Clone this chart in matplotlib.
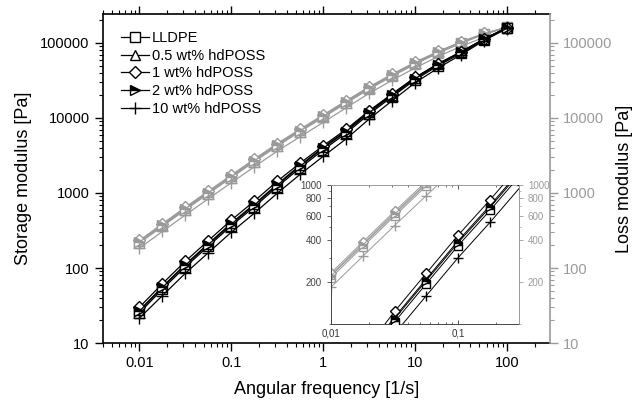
import matplotlib
matplotlib.use("Agg")
import matplotlib.pyplot as plt
from matplotlib.ticker import FixedLocator, FixedFormatter, NullFormatter, LogLocator

plt.rcParams['font.family'] = ['Liberation Sans', 'DejaVu Sans']

freq = [0.01, 0.0178, 0.0316, 0.0562, 0.1, 0.178, 0.316, 0.562, 1, 1.78,
        3.16, 5.62, 10, 17.8, 31.6, 56.2, 100]

labels = ["LLDPE", "0.5 wt% hdPOSS", "1 wt% hdPOSS", "2 wt% hdPOSS", "10 wt% hdPOSS"]

# Storage modulus G' [Pa]
gp_lldpe = [25.2, 52.3, 103.5, 195, 366, 656, 1207, 2166, 3750, 6290, 11270, 19200, 32300, 49800, 72800, 109000, 157000]
gp_05 = [27.3, 56.5, 112, 211, 397, 711, 1310, 2350, 4070, 6800, 12100, 20500, 34300, 52500, 76000, 113000, 160000]
gp_1 = [30, 62, 123, 232, 435, 780, 1435, 2510, 4270, 7060, 12500, 21000, 34800, 53000, 76500, 113000, 160000]
gp_2 = [26.5, 55, 109, 205, 385, 690, 1270, 2280, 3950, 6600, 11800, 20000, 33500, 51500, 75000, 112000, 160000]
gp_10 = [21.5, 42.9, 85, 160, 300, 538, 991, 1778, 3081, 5280, 9676, 17000, 29480, 46350, 69750, 107500, 156800]

# Loss modulus G'' [Pa]
gpp_lldpe = [215, 359, 597, 980, 1600, 2620, 4220, 6600, 10190, 15810, 24250, 36000, 52200, 73300, 99000, 130000, 161000]
gpp_05 = [226, 377, 627, 1030, 1683, 2754, 4437, 6936, 10710, 16620, 25500, 37700, 54400, 76200, 102500, 133000, 162000]
gpp_1 = [233, 389, 646, 1060, 1730, 2835, 4560, 7120, 10980, 17000, 26000, 38400, 55300, 77200, 103500, 134000, 162000]
gpp_2 = [222, 370, 615, 1010, 1650, 2700, 4350, 6800, 10500, 16300, 25000, 37000, 53500, 75000, 101000, 132000, 162000]
gpp_10 = [184, 307, 510, 838, 1370, 2240, 3610, 5640, 8720, 13700, 21300, 31800, 46500, 66000, 90000, 119000, 150000]

gp_all = [gp_lldpe, gp_05, gp_1, gp_2, gp_10]
gpp_all = [gpp_lldpe, gpp_05, gpp_1, gpp_2, gpp_10]

markers = ['s', '^', 'D', '>', '+']
msizes = [7, 7.5, 6, 7.5, 9]

GRAY = '#9a9a9a'

fig = plt.figure(figsize=(6.39, 4.01), dpi=100)
ax = fig.add_axes([0.161, 0.1446, 0.700, 0.8204])


def style_for(i, color):
    kw = dict(marker=markers[i], markersize=msizes[i], markeredgecolor=color,
              markeredgewidth=1.0, color=color)
    if markers[i] == '>':
        kw.update(fillstyle='top', markerfacecolor=color, markerfacecoloralt='white')
    elif markers[i] != '+':
        kw.update(markerfacecolor='white')
    return kw


def draw(axx, scale=1.0, lw=0.9):
    order = [4, 0, 1, 3, 2]
    for i in order:
        kw = style_for(i, GRAY)
        kw['markersize'] = msizes[i] * scale
        axx.plot(freq, gpp_all[i], lw=lw, zorder=2 + i * 0.1, **kw)
    handles = {}
    for i in order:
        kw = style_for(i, 'black')
        kw['markersize'] = msizes[i] * scale
        h, = axx.plot(freq, gp_all[i], lw=lw, zorder=3 + i * 0.1, **kw)
        handles[i] = h
    return handles


handles = draw(ax)

ax.set_xscale('log')
ax.set_yscale('log')
ax.set_xlim(0.004, 295)
ax.set_ylim(10, 243000)
ax.set_xticks([0.01, 0.1, 1, 10, 100])
ax.set_xticklabels(['0.01', '0.1', '1', '10', '100'])
ax.set_yticks([10, 100, 1000, 10000, 100000])
ax.set_yticklabels(['10', '100', '1000', '10000', '100000'])
ax.xaxis.set_minor_locator(LogLocator(base=10, subs=range(2, 10), numticks=20))
ax.yaxis.set_minor_locator(LogLocator(base=10, subs=range(2, 10), numticks=20))
ax.xaxis.set_minor_formatter(NullFormatter())
ax.yaxis.set_minor_formatter(NullFormatter())
ax.tick_params(which='both', direction='out', top=True, labelsize=10.5)
ax.tick_params(which='major', length=6, width=1)
ax.tick_params(which='minor', length=3, width=0.8)
ax.spines['right'].set_visible(False)
for s in ['left', 'bottom', 'top']:
    ax.spines[s].set_linewidth(1.2)

ax.set_xlabel('Angular frequency [1/s]', fontsize=13, labelpad=8)
ax.set_ylabel('Storage modulus [Pa]', fontsize=13, labelpad=6)

ax2 = ax.twinx()
ax2.set_yscale('log')
ax2.set_ylim(10, 243000)
ax2.set_yticks([10, 100, 1000, 10000, 100000])
ax2.set_yticklabels(['10', '100', '1000', '10000', '100000'])
ax2.yaxis.set_minor_locator(LogLocator(base=10, subs=range(2, 10), numticks=20))
ax2.yaxis.set_minor_formatter(NullFormatter())
ax2.tick_params(which='both', direction='out', colors=GRAY, labelsize=10.5)
ax2.tick_params(which='major', length=6, width=1)
ax2.tick_params(which='minor', length=3, width=0.8)
for s in ['left', 'bottom', 'top']:
    ax2.spines[s].set_visible(False)
ax2.spines['right'].set_color(GRAY)
ax2.spines['right'].set_linewidth(1.2)
ax2.set_ylabel('Loss modulus [Pa]', fontsize=13, labelpad=2, color='black')

leg = ax.legend([handles[i] for i in range(5)], labels, loc='upper left',
                bbox_to_anchor=(0.04, 0.948), borderaxespad=0, borderpad=0,
                frameon=False, fontsize=10.5, handlelength=1.95,
                handletextpad=0.2, labelspacing=0.25)

# Inset
axi = fig.add_axes([0.518, 0.192, 0.294, 0.347])
draw(axi, scale=0.85, lw=0.7)
axi.set_xscale('log')
axi.set_yscale('log')
axi.set_xlim(0.01, 0.30)
axi.set_ylim(100, 1000)
axi.xaxis.set_major_locator(FixedLocator([0.01, 0.1]))
axi.xaxis.set_major_formatter(FixedFormatter(['0,01', '0,1']))
axi.xaxis.set_minor_locator(LogLocator(base=10, subs=range(2, 10), numticks=20))
axi.xaxis.set_minor_formatter(NullFormatter())
ylabs_in = [200, 400, 600, 800, 1000]
axi.yaxis.set_major_locator(FixedLocator(ylabs_in))
axi.yaxis.set_major_formatter(FixedFormatter([str(v) for v in ylabs_in]))
axi.yaxis.set_minor_locator(FixedLocator([100, 300, 500, 700, 900]))
axi.yaxis.set_minor_formatter(NullFormatter())
axi.tick_params(axis='x', which='both', direction='in', top=True, labelsize=7, colors='#333333')
axi.tick_params(axis='y', which='both', direction='out', labelsize=7, colors='#444444')
axi.tick_params(which='major', length=3, width=0.6)
axi.tick_params(which='minor', length=1.6, width=0.5)
axi.spines['left'].set_color('#444444')
axi.spines['bottom'].set_color('#444444')
axi.spines['top'].set_color(GRAY)
axi.spines['right'].set_visible(False)
for s in axi.spines.values():
    s.set_linewidth(0.7)

axi2 = axi.twinx()
axi2.set_yscale('log')
axi2.set_ylim(100, 1000)
axi2.yaxis.set_major_locator(FixedLocator(ylabs_in))
axi2.yaxis.set_major_formatter(FixedFormatter([str(v) for v in ylabs_in]))
axi2.yaxis.set_minor_locator(FixedLocator([100, 300, 500, 700, 900]))
axi2.yaxis.set_minor_formatter(NullFormatter())
axi2.tick_params(which='both', direction='out', labelsize=7, colors=GRAY)
axi2.tick_params(which='major', length=3, width=0.6)
axi2.tick_params(which='minor', length=1.6, width=0.5)
for s in ['left', 'bottom', 'top']:
    axi2.spines[s].set_visible(False)
axi2.spines['right'].set_color(GRAY)
axi2.spines['right'].set_linewidth(0.7)

fig.savefig('out.png', dpi=100)
